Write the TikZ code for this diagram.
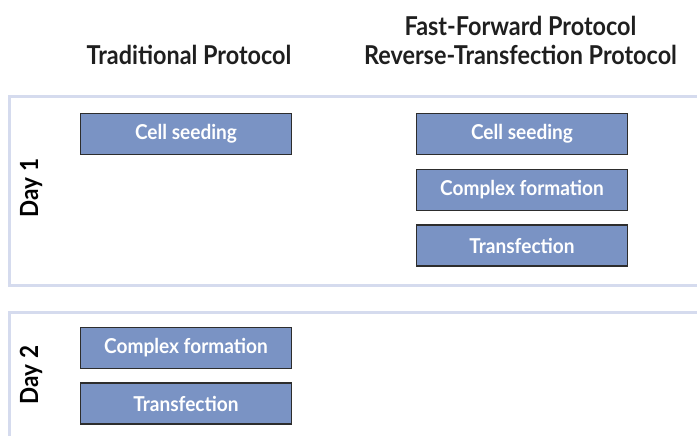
\documentclass[tikz,border=0pt]{standalone}
\usepackage{fontspec}
\setmainfont{Lato}
\newfontfamily\hfont[FakeStretch=0.9]{Lato}
\newfontfamily\bfont[FakeStretch=0.93]{Lato}
\definecolor{boxfill}{RGB}{122,147,196}
\definecolor{panelline}{RGB}{213,219,238}
\definecolor{boxline}{RGB}{45,45,45}
\begin{document}
\begin{tikzpicture}[x=1pt,y=-1pt,
  stepbox/.style={draw=boxline,line width=1.4pt,fill=boxfill,minimum width=211pt,minimum height=41pt,inner sep=0pt,
    text=white,font=\bfont\bfseries\fontsize{20.5}{23}\selectfont},
  head/.style={font=\hfont\bfseries\fontsize{26}{29.5}\selectfont,text=black!88,align=center,inner sep=0pt},
  daylab/.style={font=\hfont\bfseries\fontsize{25}{29}\selectfont,rotate=90,inner sep=0pt,anchor=base},
  panel/.style={draw=panelline,line width=3pt}]
\useasboundingbox (0,0) rectangle (697,436);
\draw[panel] (9.5,97) rectangle (710,285);
\draw[panel] (9.5,312) rectangle (710,450);
\node[head,anchor=base] (h1) at (189,65) {Traditional Protocol};
\node[head,anchor=base] (h2) at (520.5,65) {Fast-Forward Protocol\\Reverse-Transfection Protocol};
\node[daylab] (d1) at (38,188) {Day 1};
\node[daylab] (d2) at (38,375) {Day 2};
\node[stepbox] (a1) at (186,134) {Cell seeding};
\node[stepbox] (a2) at (186,348) {Complex formation};
\node[stepbox] (a3) at (186,403.5) {Transfection};
\node[stepbox] (b1) at (522,134) {Cell seeding};
\node[stepbox] (b2) at (522,190) {Complex formation};
\node[stepbox] (b3) at (522,245.5) {Transfection};
\end{tikzpicture}
\end{document}
